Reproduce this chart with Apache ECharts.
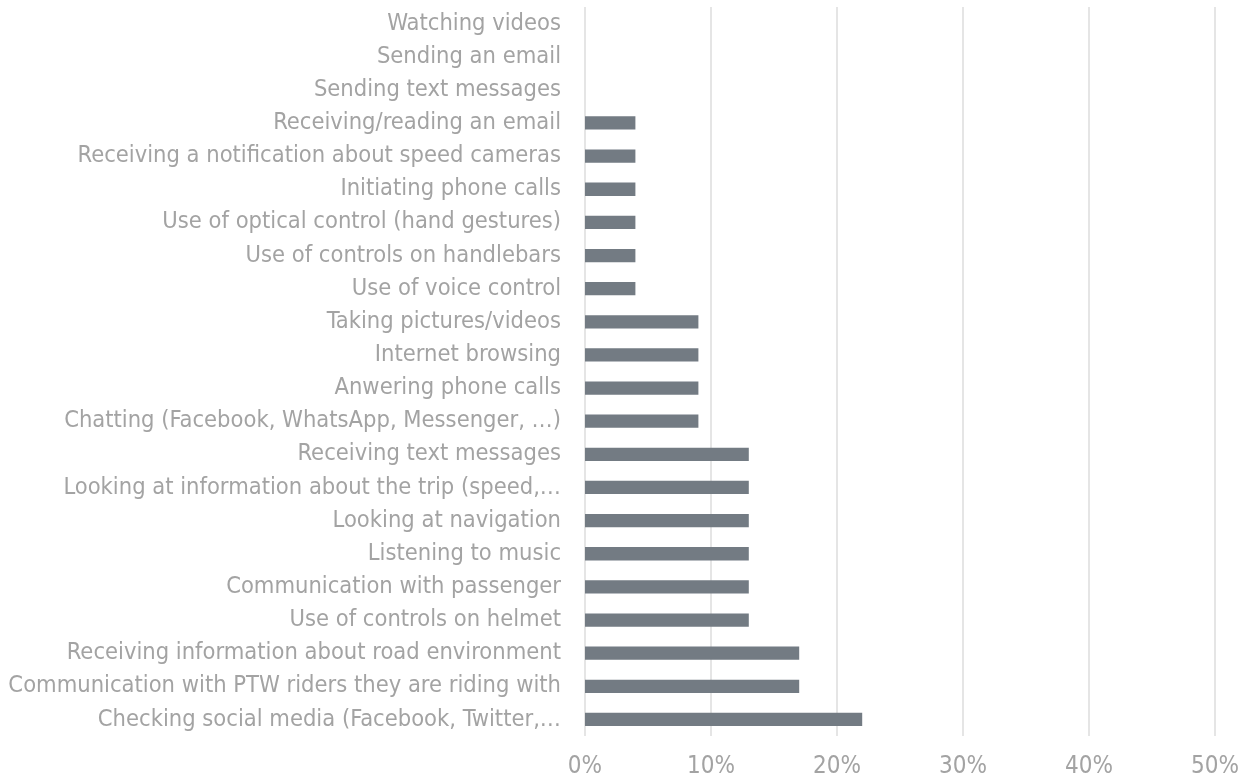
<!DOCTYPE html>
<html>
<head>
<meta charset="utf-8">
<script src="https://cdn.jsdelivr.net/npm/echarts@6/dist/echarts.min.js"></script>
<style>
  html, body { margin: 0; padding: 0; background: #fff; }
  #chart { width: 1251px; height: 783px; }
</style>
</head>
<body>
<div id="chart"></div>
<script>
  // categories listed bottom to top (category axis starts at the bottom)
  var categories = [
    'Checking social media (Facebook, Twitter,…',
    'Communication with PTW riders they are riding with',
    'Receiving information about road environment',
    'Use of controls on helmet',
    'Communication with passenger',
    'Listening to music',
    'Looking at navigation',
    'Looking at information about the trip (speed,…',
    'Receiving text messages',
    'Chatting (Facebook, WhatsApp, Messenger, …)',
    'Anwering phone calls',
    'Internet browsing',
    'Taking pictures/videos',
    'Use of voice control',
    'Use of controls on handlebars',
    'Use of optical control (hand gestures)',
    'Initiating phone calls',
    'Receiving a notification about speed cameras',
    'Receiving/reading an email',
    'Sending text messages',
    'Sending an email',
    'Watching videos'
  ];
  var values = [22, 17, 17, 13, 13, 13, 13, 13, 13, 9, 9, 9, 9, 4, 4, 4, 4, 4, 4, 0, 0, 0];

  var chart = echarts.init(document.getElementById('chart'));
  chart.setOption({
    animation: false,
    textStyle: { fontFamily: '"DejaVu Sans Condensed", "DejaVu Sans", sans-serif' },
    grid: { left: 585, right: 36, top: 7, bottom: 47, containLabel: false },
    xAxis: {
      type: 'value',
      min: 0,
      max: 50,
      interval: 10,
      axisLine: { show: false },
      axisTick: { show: false },
      axisLabel: {
        formatter: '{value}%',
        color: '#a3a3a3',
        fontSize: 24,
        margin: 19
      },
      splitLine: { lineStyle: { color: '#e5e5e5', width: 2 } }
    },
    yAxis: {
      type: 'category',
      data: categories,
      axisLine: { show: false },
      axisTick: { show: false },
      axisLabel: {
        color: '#a3a3a3',
        fontSize: 23.5,
        margin: 24
      }
    },
    series: [{
      type: 'bar',
      data: values,
      barCategoryGap: '60%',
      itemStyle: { color: '#737b83' }
    }]
  });
</script>
</body>
</html>
